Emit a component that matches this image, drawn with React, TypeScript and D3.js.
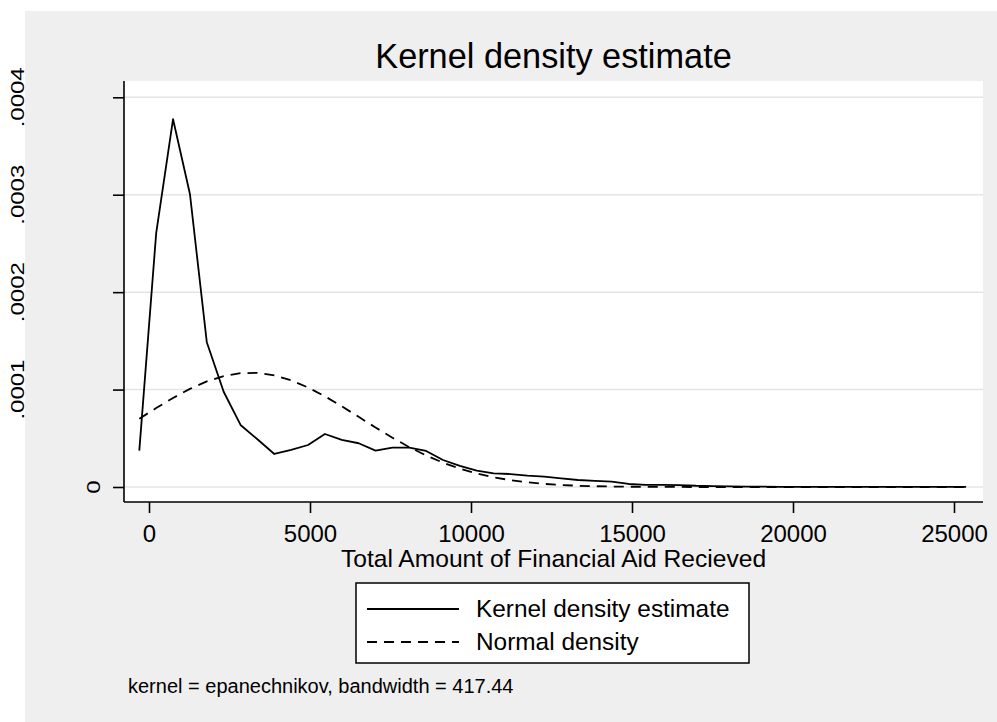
import React, { useEffect, useRef } from 'react';
import * as d3 from 'd3';

const width = 997,
  height = 722;

// points where the density was evaluated (50 of them, min to max)
const gridX = [
  -301, 223, 747, 1271, 1795, 2319, 2843, 3367, 3891, 4415,
  4939, 5463, 5987, 6511, 7035, 7559, 8083, 8607, 9131, 9655,
  10179, 10703, 11227, 11751, 12275, 12799, 13323, 13847, 14371, 14895,
  15419, 15943, 16467, 16991, 17515, 18039, 18563, 19087, 19611, 20135,
  20659, 21183, 21707, 22231, 22755, 23279, 23803, 24327, 24851, 25375,
];

const kernelDensity = [
  3.73e-5, 2.605e-4, 3.775e-4, 3.008e-4, 1.486e-4, 9.78e-5, 6.37e-5, 4.9e-5, 3.39e-5, 3.8e-5,
  4.31e-5, 5.44e-5, 4.83e-5, 4.49e-5, 3.73e-5, 4.04e-5, 4.04e-5, 3.7e-5, 2.77e-5, 2.16e-5,
  1.68e-5, 1.4e-5, 1.33e-5, 1.16e-5, 1.06e-5, 8.9e-6, 7.2e-6, 6.2e-6, 5.5e-6, 3.1e-6,
  2.1e-6, 2.1e-6, 2.0e-6, 1.3e-6, 1.0e-6, 6e-7, 4e-7, 3e-7, 2e-7, 2e-7,
  1e-7, 1e-7, 1e-7, 1e-7, 1e-7, 1e-7, 1e-7, 1e-7, 1e-7, 1e-7,
];

const normalDensity = [
  7.01e-5, 8.1e-5, 9.14e-5, 1.007e-4, 1.084e-4, 1.139e-4, 1.168e-4, 1.171e-4, 1.145e-4, 1.095e-4,
  1.021e-4, 9.31e-5, 8.28e-5, 7.2e-5, 6.11e-5, 5.06e-5, 4.09e-5, 3.24e-5, 2.5e-5, 1.88e-5,
  1.38e-5, 9.96e-6, 7.0e-6, 4.8e-6, 3.2e-6, 2.1e-6, 1.3e-6, 8e-7, 5e-7, 3e-7,
  1.5e-7, 8e-8, 4e-8, 2e-8, 0, 0, 0, 0, 0, 0,
  0, 0, 0, 0, 0, 0, 0, 0, 0, 0,
];

const xTicks = [0, 5000, 10000, 15000, 20000, 25000];
const yTicks = [0, 0.0001, 0.0002, 0.0003, 0.0004];
const yTickLabels = ['0', '.0001', '.0002', '.0003', '.0004'];
const legendLabels = ['Kernel density estimate', 'Normal density'];

const title = 'Kernel density estimate';
const xTitle = 'Total Amount of Financial Aid Recieved';
const note = 'kernel = epanechnikov, bandwidth = 417.44';

const font = '"Liberation Sans", Arial, Helvetica, sans-serif';
const plot = { left: 124, right: 983, top: 81, bottom: 502 };

export default function App() {
  const ref = useRef<SVGSVGElement>(null);

  useEffect(() => {
    const svg = d3.select(ref.current);
    svg.selectAll('*').remove();

    const x = d3.scaleLinear().domain([0, 25000]).range([149, 954]);
    const y = d3.scaleLinear().domain([0, 0.0004]).range([487, 97.3]);

    // backgrounds
    svg.append('rect')
      .attr('x', 25).attr('y', 11)
      .attr('width', width - 25).attr('height', height - 11)
      .attr('fill', '#efefef');
    svg.append('rect')
      .attr('x', plot.left).attr('y', plot.top)
      .attr('width', plot.right - plot.left).attr('height', plot.bottom - plot.top)
      .attr('fill', '#ffffff');

    // gridlines
    svg.append('g')
      .selectAll('line')
      .data(yTicks)
      .enter()
      .append('line')
      .attr('x1', plot.left).attr('x2', plot.right)
      .attr('y1', (d) => y(d)).attr('y2', (d) => y(d))
      .attr('stroke', '#e4e4e4')
      .attr('stroke-width', 1.5);

    // curves
    const line = d3.line<number>()
      .x((d, i) => x(gridX[i]))
      .y((d) => y(d));

    svg.append('path')
      .attr('d', line(normalDensity))
      .attr('fill', 'none')
      .attr('stroke', '#000')
      .attr('stroke-width', 1.8)
      .attr('stroke-dasharray', '10,7');

    svg.append('path')
      .attr('d', line(kernelDensity))
      .attr('fill', 'none')
      .attr('stroke', '#000')
      .attr('stroke-width', 1.8)
      .attr('stroke-linejoin', 'round');

    // x axis
    const xAxis = svg.append('g')
      .attr('transform', 'translate(0,' + plot.bottom + ')')
      .call(d3.axisBottom(x).tickValues(xTicks).tickSize(11).tickPadding(12).tickFormat(d3.format('d')));
    xAxis.select('.domain').remove();
    xAxis.selectAll('line').attr('stroke', '#000').attr('stroke-width', 1.6);
    xAxis.selectAll('text')
      .attr('fill', '#000')
      .style('font-family', font)
      .style('font-size', '24px');

    // y axis
    const yAxis = svg.append('g')
      .attr('transform', 'translate(' + plot.left + ',0)')
      .call(d3.axisLeft(y).tickValues(yTicks).tickSize(11).tickFormat(() => ''));
    yAxis.select('.domain').remove();
    yAxis.selectAll('line').attr('stroke', '#000').attr('stroke-width', 1.6);

    svg.append('g')
      .selectAll('text')
      .data(yTicks)
      .enter()
      .append('text')
      .attr('transform', (d) => 'translate(' + (d === 0 ? 100 : 24) + ',' + y(d) + ') rotate(-90) scale(1,0.8)')
      .attr('text-anchor', 'middle')
      .style('font-family', font)
      .style('font-size', '24px')
      .text((d, i) => yTickLabels[i]);

    // axis lines
    svg.append('line')
      .attr('x1', plot.left).attr('x2', plot.left)
      .attr('y1', plot.top).attr('y2', plot.bottom)
      .attr('stroke', '#000').attr('stroke-width', 1.6);
    svg.append('line')
      .attr('x1', plot.left).attr('x2', plot.right)
      .attr('y1', plot.bottom).attr('y2', plot.bottom)
      .attr('stroke', '#000').attr('stroke-width', 1.6);

    // titles
    const cx = (plot.left + plot.right) / 2;
    svg.append('text')
      .attr('x', cx).attr('y', 68)
      .attr('text-anchor', 'middle')
      .style('font-family', font).style('font-size', '34.3px')
      .text(title);
    svg.append('text')
      .attr('x', cx).attr('y', 567)
      .attr('text-anchor', 'middle')
      .style('font-family', font).style('font-size', '24.6px')
      .text(xTitle);

    // legend
    const legend = svg.append('g');
    legend.append('rect')
      .attr('x', 356).attr('y', 583)
      .attr('width', 393).attr('height', 80)
      .attr('fill', '#fff').attr('stroke', '#000').attr('stroke-width', 1.5);
    const rows = legend.selectAll('.row')
      .data(legendLabels)
      .enter()
      .append('g')
      .attr('class', 'row')
      .attr('transform', (d, i) => 'translate(0,' + (617 + i * 33) + ')');
    rows.append('line')
      .attr('x1', 367).attr('x2', 459)
      .attr('y1', -8).attr('y2', -8)
      .attr('stroke', '#000').attr('stroke-width', 1.8)
      .attr('stroke-dasharray', (d, i) => (i === 0 ? null : '10,7'));
    rows.append('text')
      .attr('x', 476).attr('y', 0)
      .style('font-family', font).style('font-size', '24.4px')
      .text((d) => d);

    // note
    svg.append('text')
      .attr('x', 128).attr('y', 693)
      .style('font-family', font).style('font-size', '20px')
      .text(note);
  }, []);

  return (
    <svg
      ref={ref}
      width={width}
      height={height}
      style={{ position: 'absolute', left: 0, top: 0, display: 'block', background: '#fff' }}
    />
  );
}
